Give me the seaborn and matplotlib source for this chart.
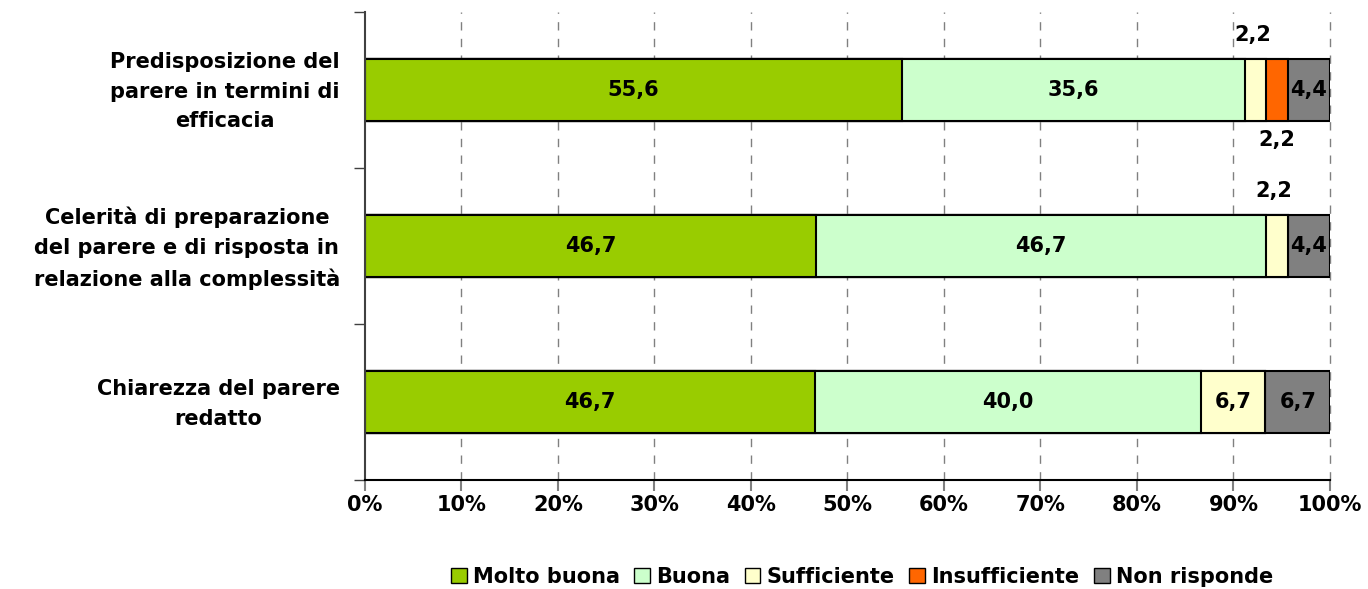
import matplotlib
matplotlib.use("Agg")
import matplotlib.pyplot as plt
import matplotlib.transforms as mtransforms
import seaborn as sns
import pandas as pd
import numpy as np
from matplotlib.patches import Patch

categories = ["Predisposizione del\nparere in termini di\nefficacia",
              "Celerità di preparazione\ndel parere e di risposta in\nrelazione alla complessità",
              "Chiarezza del parere\nredatto"]
series = ["Molto buona", "Buona", "Sufficiente", "Insufficiente", "Non risponde"]
molto_buona = [55.6, 46.7, 46.7]
buona = [35.6, 46.7, 40.0]
sufficiente = [2.2, 2.2, 6.7]
insufficiente = [2.2, 0.0, 0.0]
non_risponde = [4.4, 4.4, 6.7]
colors = ["#99CC00", "#CCFFCC", "#FFFFCC", "#FF6600", "#808080"]
xticklabels = ["0%", "10%", "20%", "30%", "40%", "50%", "60%", "70%", "80%", "90%", "100%"]

sns.set_theme(style="white")
plt.rcParams["font.family"] = ["DejaVu Sans"]
plt.rcParams["font.weight"] = "bold"
plt.rcParams["text.color"] = "black"
plt.rcParams["xtick.color"] = "black"
plt.rcParams["ytick.color"] = "black"

FS = 15

values = [molto_buona, buona, sufficiente, insufficiente, non_risponde]
arr = np.array(values)
cum = np.cumsum(arr, axis=0)
total = cum[-1]
scale = 100.0 / total
cum_pct = cum * scale
start_pct = cum_pct - arr * scale

fig = plt.figure(figsize=(13.68, 5.89), dpi=100)
ax = fig.add_axes([365/1368, 1-480/589, (1330-365)/1368, (480-12)/589])

for x in range(10, 101, 10):
    ax.axvline(x, color="#808080", lw=1, ls=(0, (6, 6)), zorder=0, clip_on=False)

for i in range(len(series) - 1, -1, -1):
    df = pd.DataFrame({"cat": categories, "val": cum_pct[i]})
    sns.barplot(data=df, x="val", y="cat", orient="h", color=colors[i],
                width=0.4, edgecolor="black", linewidth=1.5, ax=ax, zorder=2,
                saturation=1)

ax.set_xlim(0, 100)
ax.set_ylim(2.5, -0.5)
ax.set_xlabel("")
ax.set_ylabel("")

def fmt(v):
    return f"{v:.1f}".replace(".", ",")

for j in range(len(categories)):
    for i in range(len(series)):
        v = arr[i, j]
        if v <= 0:
            continue
        cx = (start_pct[i, j] + cum_pct[i, j]) / 2
        w = cum_pct[i, j] - start_pct[i, j]
        if w >= 4:
            ax.text(cx, j, fmt(v), ha="center", va="center", fontsize=FS,
                    fontweight="bold", color="black", zorder=5)
        elif i == 2:
            ax.text(cx - 0.3, j - 0.35, fmt(v), ha="center", va="center",
                    fontsize=FS, fontweight="bold", color="black", zorder=5)
        else:
            ax.text(cx, j + 0.32, fmt(v), ha="center", va="center",
                    fontsize=FS, fontweight="bold", color="black", zorder=5)

ax.set_xticks(np.arange(0, 101, 10))
ax.set_xticklabels(xticklabels, fontsize=FS, fontweight="bold")
ax.set_yticks([0, 1, 2])
ax.set_yticklabels(categories, fontsize=FS, fontweight="bold", linespacing=1.6,
                   multialignment="center")
ax.set_yticks([-0.5, 0.5, 1.5, 2.5], minor=True)
ax.tick_params(axis="y", which="major", length=0, pad=18)
ax.tick_params(axis="y", which="minor", length=8, width=1, color="#404040",
               direction="out", left=True)
ax.tick_params(axis="x", which="major", length=8, width=1.5, color="#808080",
               direction="out", bottom=True, pad=3)

shift = mtransforms.ScaledTranslation(0, 5/100, fig.dpi_scale_trans)
for lab in ax.get_yticklabels():
    lab.set_transform(lab.get_transform() + shift)

for s in ["top", "right"]:
    ax.spines[s].set_visible(False)
ax.spines["left"].set_color("#404040")
ax.spines["left"].set_linewidth(1.5)
ax.spines["bottom"].set_color("black")
ax.spines["bottom"].set_linewidth(1.5)

handles = [Patch(facecolor=c, edgecolor="black", linewidth=1) for c in colors]
fig.legend(handles, series, loc="center", bbox_to_anchor=(862/1368, 1-577/589),
           ncol=5, frameon=False, prop={"size": FS, "weight": "bold"},
           handlelength=0.75, handleheight=0.75, handletextpad=0.3, columnspacing=0.7)

fig.savefig("out.png", dpi=100)
